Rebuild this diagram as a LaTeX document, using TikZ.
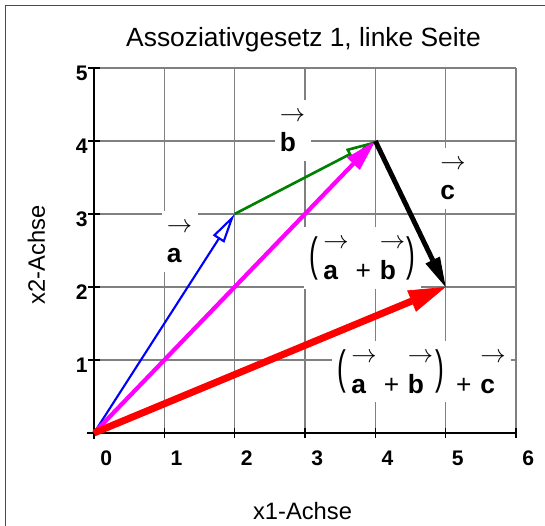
\documentclass[tikz,border=0pt]{standalone}
\usepackage{fontspec}
\setmainfont{Liberation Sans}
\usepackage{graphicx}
\usetikzlibrary{arrows.meta}

\definecolor{vecmagenta}{RGB}{255,0,255}
\definecolor{vecgreen}{RGB}{0,128,0}
\newcommand{\vecarrow}{{\fontsize{13.5}{13.5}\selectfont$\rightarrow$}}
\newcommand{\tallparen}[1]{$\vcenter{\hbox{\scalebox{1}[1.77]{#1}}}$}
\newcommand{\veclabel}[1]{\begin{tabular}{@{}l@{}}\vecarrow\\\textbf{#1}\end{tabular}}
\newcommand{\sumab}{\tallparen{(}\hspace{3pt}\begin{tabular}{@{}l@{\hspace{4pt}}l@{\hspace{5pt}}l@{}}\vecarrow&&\vecarrow\\\textbf{a}&+&\textbf{b}\end{tabular}\hspace{1pt}\tallparen{)}}

\begin{document}
\begin{tikzpicture}[x=1.4067cm, y=1.46cm,
    gridline/.style={black!50, line width=0.8pt},
    axisline/.style={black, line width=0.9pt},
    ticklbl/.style={font=\fontsize{12}{12}\selectfont\bfseries, inner sep=0pt},
    veclbl/.style={fill=white, inner xsep=3pt, inner ysep=0pt, font=\fontsize{15}{17.5}\selectfont},
    veca/.style={blue, line width=1.2pt, -{Triangle[length=17pt, width=7.5pt, fill=white]}},
    vecb/.style={vecgreen, line width=1.5pt, -{Triangle[length=17pt, width=7pt, fill=white]}},
    vecab/.style={vecmagenta, line width=2.4pt, -{Triangle[length=18pt, width=10pt, line width=0.4pt]}},
    vecc/.style={black, line width=2.8pt, -{Triangle[length=17pt, width=9pt, line width=0.6pt]}},
    vecabc/.style={red, line width=4pt, -{Triangle[length=21pt, width=13pt, line width=0.4pt]}}]
    \useasboundingbox (-1.3366,-1.274) rectangle (6.4126,5.9315);
    \draw[black!70, line width=1.1pt] (-1.258,-1.274) -- (-1.258,5.856) -- (6.4126,5.856);

    \node[font=\fontsize{15}{18}\selectfont, anchor=base] (title) at (2.979,5.288) {Assoziativgesetz 1, linke Seite};

    % Gitter und Achsen
    \foreach \x in {1,...,6}
        \draw[gridline] (\x,0) -- (\x,5);
    \foreach \y in {1,...,5}
        \draw[gridline] (0,\y) -- (6,\y);
    \draw[axisline] (0,-0.08) -- (0,5);
    \draw[axisline] (-0.1,0) -- (6,0);
    \foreach \x in {0,...,6} {
        \draw[axisline] (\x,-0.07) -- (\x,0.07);
        \node[ticklbl, anchor=base west] (xt\x) at (\x+0.085,-0.452) {\x};
    }
    \foreach \y in {1,...,5} {
        \draw[axisline] (-0.085,\y) -- (0.085,\y);
        \node[ticklbl, anchor=base east] (yt\y) at (-0.085,\y-0.171) {\y};
    }
    \node[font=\fontsize{13.5}{16}\selectfont, anchor=base] (xlabel) at (2.965,-1.192) {x1-Achse};
    \node[font=\fontsize{13.5}{16}\selectfont, anchor=base, rotate=90] (ylabel) at (-0.697,2.438) {x2-Achse};

    % Beschriftungen
    \node[veclbl] (lbla) at (1.217,2.625) {\veclabel{a}};
    \node[veclbl] (lblb) at (2.824,4.145) {\veclabel{b}};
    \node[veclbl] (lblc) at (5.104,3.488) {\veclabel{c}};
    \node[veclbl] (lblab) at (3.818,2.397) {\sumab};
    \node[veclbl] (lblabc) at (4.657,0.842)
        {\sumab\hspace{7pt}\begin{tabular}{@{}l@{\hspace{5pt}}l@{}}&\vecarrow\\+&\textbf{c}\end{tabular}};

    % Vektoren
    \coordinate (O) at (0,0);
    \coordinate (A) at (2,3);
    \coordinate (B) at (4,4);
    \coordinate (C) at (5,2);
    \draw[veca] (O) -- (A);
    \draw[vecb] (A) -- (B);
    \draw[vecab] (O) -- (B);
    \draw[vecc] (B) -- (C);
    \draw[vecabc] (O) -- (C);
\end{tikzpicture}
\end{document}
